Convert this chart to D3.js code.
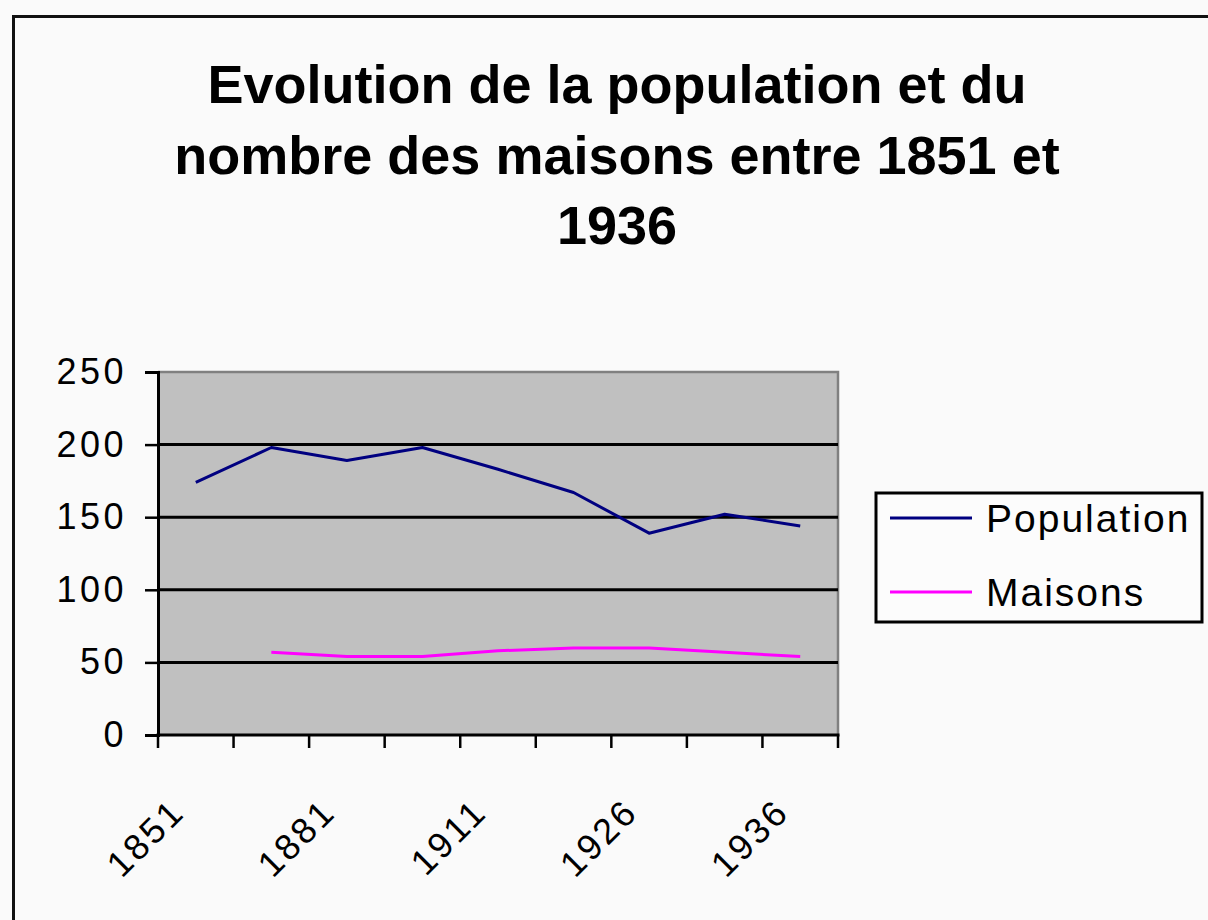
<!DOCTYPE html>
<html>
<head>
<meta charset="utf-8">
<script src="https://cdn.jsdelivr.net/npm/d3@7/dist/d3.min.js"></script>
<style>
  html, body { margin: 0; padding: 0; background: #fafafa; }
  svg { display: block; }
  text { font-family: "Liberation Sans", Arial, sans-serif; fill: #000; }
</style>
</head>
<body>
<svg id="chart" width="1208" height="920"></svg>
<script>
// ---- data ----
const categories = ["1851", "1866", "1881", "1896", "1911", "1921", "1926", "1931", "1936"];
const shownLabels = ["1851", "1881", "1911", "1926", "1936"];
const population = [174, 198, 189, 198, 183, 167, 139, 152, 144];
const maisons = [null, 57, 54, 54, 58, 60, 60, 57, 54];
const yTicks = [0, 50, 100, 150, 200, 250];
const titleLines = ["Evolution de la population et du", "nombre des maisons entre 1851 et", "1936"];
const seriesNames = ["Population", "Maisons"];
const seriesColors = ["#000080", "#ff00ff"];

// ---- layout ----
const W = 1208, H = 920;
const plot = { left: 158, right: 838, top: 372, bottom: 735 };
const svg = d3.select("#chart");

svg.append("rect").attr("x", 0).attr("y", 0).attr("width", W).attr("height", H).attr("fill", "#fafafa");
// outer chart border (extends beyond the window on right/bottom)
svg.append("rect").attr("x", 13.5).attr("y", 16.5).attr("width", 1300).attr("height", 1000)
  .attr("fill", "none").attr("stroke", "#111").attr("stroke-width", 3);

// title
svg.append("g").selectAll("text").data(titleLines).join("text")
  .attr("x", 617).attr("y", (d, i) => 103 + i * 70.5)
  .attr("text-anchor", "middle")
  .attr("font-size", 54).attr("font-weight", "bold").attr("fill", "#0a0a0a")
  .text(d => d);

// scales
const x = d3.scaleBand().domain(categories).range([plot.left, plot.right]).padding(0);
const y = d3.scaleLinear().domain([0, 250]).range([plot.bottom, plot.top]);

// plot background
svg.append("rect").attr("x", plot.left).attr("y", plot.top)
  .attr("width", plot.right - plot.left).attr("height", plot.bottom - plot.top)
  .attr("fill", "#c0c0c0");
// top/right gray border
svg.append("path")
  .attr("d", `M${plot.left},${plot.top}H${plot.right}V${plot.bottom}`)
  .attr("fill", "none").attr("stroke", "#808080").attr("stroke-width", 2.5);

// gridlines
svg.append("g").selectAll("line").data(yTicks.filter(v => v > 0 && v < 250)).join("line")
  .attr("x1", plot.left).attr("x2", plot.right)
  .attr("y1", d => y(d)).attr("y2", d => y(d))
  .attr("stroke", "#000").attr("stroke-width", 3);

// y axis
const yAxis = svg.append("g").attr("transform", `translate(${plot.left},0)`)
  .call(d3.axisLeft(y).tickValues(yTicks).tickSize(13).tickPadding(22));
yAxis.select(".domain").attr("stroke", "#000").attr("stroke-width", 3);
yAxis.selectAll(".tick line").attr("stroke", "#000").attr("stroke-width", 2.5);
yAxis.selectAll(".tick text")
  .attr("font-size", 36).attr("font-family", "Liberation Sans, Arial, sans-serif")
  .attr("letter-spacing", 3.5).attr("fill", "#111").attr("dx", 4);

// x axis baseline
svg.append("line").attr("x1", plot.left - 1.5).attr("x2", plot.right + 1.5)
  .attr("y1", plot.bottom).attr("y2", plot.bottom)
  .attr("stroke", "#000").attr("stroke-width", 3);
// tick marks between categories
const boundaries = categories.map(c => x(c)).concat([x(categories[categories.length - 1]) + x.bandwidth()]);
svg.append("g").selectAll("line").data(boundaries).join("line")
  .attr("x1", d => d).attr("x2", d => d)
  .attr("y1", plot.bottom).attr("y2", plot.bottom + 13)
  .attr("stroke", "#000").attr("stroke-width", 2.5);
// x labels (rotated)
svg.append("g").selectAll("text").data(shownLabels).join("text")
  .attr("transform", d => `translate(${x(d) + x.bandwidth() / 2 - 9},${plot.bottom + 79}) rotate(-45)`)
  .attr("text-anchor", "end")
  .attr("font-size", 36).attr("letter-spacing", 3).attr("fill", "#111")
  .text(d => d);

// lines
const cx = (i) => x(categories[i]) + x.bandwidth() / 2;
const lineGen = d3.line().defined(d => d != null).x((d, i) => cx(i)).y(d => y(d));
[population, maisons].forEach((s, k) => {
  svg.append("path").datum(s)
    .attr("d", lineGen)
    .attr("fill", "none").attr("stroke", seriesColors[k]).attr("stroke-width", 3)
    .attr("stroke-linejoin", "round");
});

// legend
const lg = svg.append("g");
lg.append("rect").attr("x", 876).attr("y", 493).attr("width", 326).attr("height", 129)
  .attr("fill", "#fcfcfc").attr("stroke", "#000").attr("stroke-width", 3);
seriesNames.forEach((n, i) => {
  const ly = 518 + i * 74;
  lg.append("line").attr("x1", 890).attr("x2", 972).attr("y1", ly).attr("y2", ly)
    .attr("stroke", seriesColors[i]).attr("stroke-width", 3);
  lg.append("text").attr("x", 986).attr("y", ly + 14)
    .attr("font-size", 39).attr("letter-spacing", 2).attr("fill", "#111")
    .text(n);
});
</script>
</body>
</html>
